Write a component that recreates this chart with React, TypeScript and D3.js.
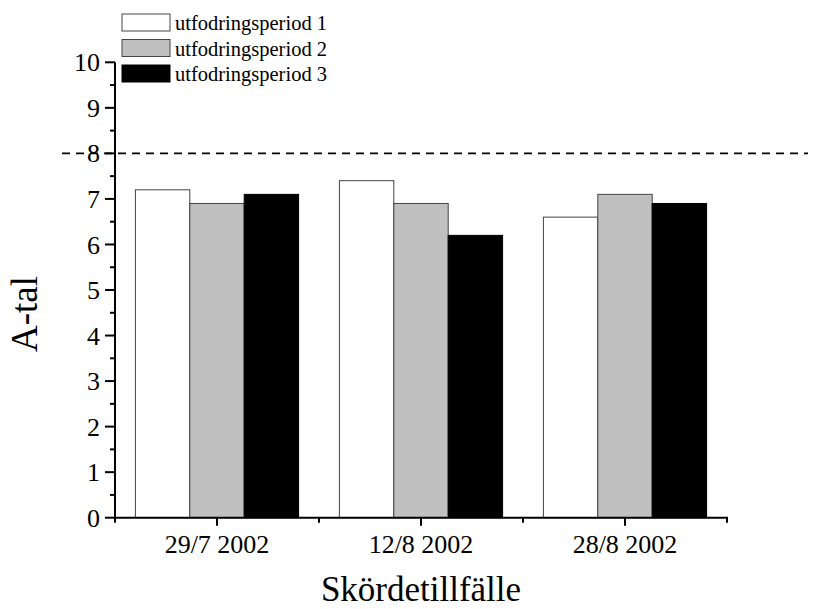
import React from "react";
import * as d3 from "d3";

const categories = ["29/7 2002", "12/8 2002", "28/8 2002"];
const seriesNames = ["utfodringsperiod 1", "utfodringsperiod 2", "utfodringsperiod 3"];
const period1 = [7.2, 7.4, 6.6];
const period2 = [6.9, 6.9, 7.1];
const period3 = [7.1, 6.2, 6.9];
const yTicks = [0, 1, 2, 3, 4, 5, 6, 7, 8, 9, 10];
const refValue = 8;

const fills = ["#ffffff", "#c0c0c0", "#000000"];
const FONT = "'Liberation Serif', 'Times New Roman', serif";

export default function App() {
  const W = 814, H = 609;
  const left = 115, right = 727, top = 62.3, bottom = 517.7;
  const series = [period1, period2, period3];

  const x = d3.scaleBand<string>().domain(categories).range([left, right]).paddingInner(0).paddingOuter(0);
  const y = d3.scaleLinear().domain([0, 10]).range([bottom, top]);
  const inner = d3.scaleBand<number>().domain([0, 1, 2]).range([0, x.bandwidth() * 0.8]);
  const offset = x.bandwidth() * 0.1;

  const minorY = d3.range(0.5, 10, 1);
  const bw = x.bandwidth();

  return (
    <svg width={W} height={H} style={{ position: "absolute", left: 0, top: 0 }} fontFamily={FONT}>
      <rect width={W} height={H} fill="#fff" />
      {/* bars */}
      {categories.map((c, ci) =>
        series.map((s, si) => (
          <rect
            key={c + si}
            x={(x(c) as number) + offset + (inner(si) as number)}
            y={y(s[ci])}
            width={inner.bandwidth()}
            height={y(0) - y(s[ci])}
            fill={fills[si]}
            stroke={si === 2 ? "#000" : "#444"}
            strokeWidth={1}
          />
        ))
      )}
      {/* dashed reference */}
      <line x1={62} x2={808} y1={y(refValue)} y2={y(refValue)} stroke="#000" strokeWidth={1.6} strokeDasharray="8 6" />
      {/* y axis */}
      <line x1={left} x2={left} y1={bottom + 1} y2={top} stroke="#000" strokeWidth={2} />
      {yTicks.map((t) => (
        <g key={t}>
          <line x1={left - 10} x2={left} y1={y(t)} y2={y(t)} stroke="#000" strokeWidth={2} />
          <text x={100} y={y(t)} dy="0.35em" textAnchor="end" fontSize={26}>
            {t}
          </text>
        </g>
      ))}
      {minorY.map((t) => (
        <line key={t} x1={left - 5} x2={left} y1={y(t)} y2={y(t)} stroke="#000" strokeWidth={2} />
      ))}
      {/* x axis */}
      <line x1={left - 1} x2={right + 1} y1={bottom} y2={bottom} stroke="#000" strokeWidth={2} />
      {categories.map((c) => (
        <g key={c}>
          <line x1={(x(c) as number) + bw / 2} x2={(x(c) as number) + bw / 2} y1={bottom} y2={bottom + 8} stroke="#000" strokeWidth={2} />
          <text x={(x(c) as number) + bw / 2} y={553} textAnchor="middle" fontSize={26}>
            {c}
          </text>
        </g>
      ))}
      {[left, ...categories.map((c) => (x(c) as number) + bw)].map((v, i) => (
        <line key={i} x1={v} x2={v} y1={bottom} y2={bottom + 5} stroke="#000" strokeWidth={2} />
      ))}
      {/* axis titles */}
      <text x={(left + right) / 2} y={601} textAnchor="middle" fontSize={35}>
        Skördetillfälle
      </text>
      <text transform={`translate(37, 314) rotate(-90)`} textAnchor="middle" fontSize={37}>
        A-tal
      </text>
      {/* legend */}
      {seriesNames.map((n, i) => (
        <g key={n} transform={`translate(122, ${14 + i * 25.5})`}>
          <rect x={0} y={0} width={48} height={17} fill={fills[i]} stroke={i === 2 ? "#000" : "#444"} strokeWidth={1} />
          <text x={53} y={16} fontSize={20.5}>
            {n}
          </text>
        </g>
      ))}
    </svg>
  );
}
